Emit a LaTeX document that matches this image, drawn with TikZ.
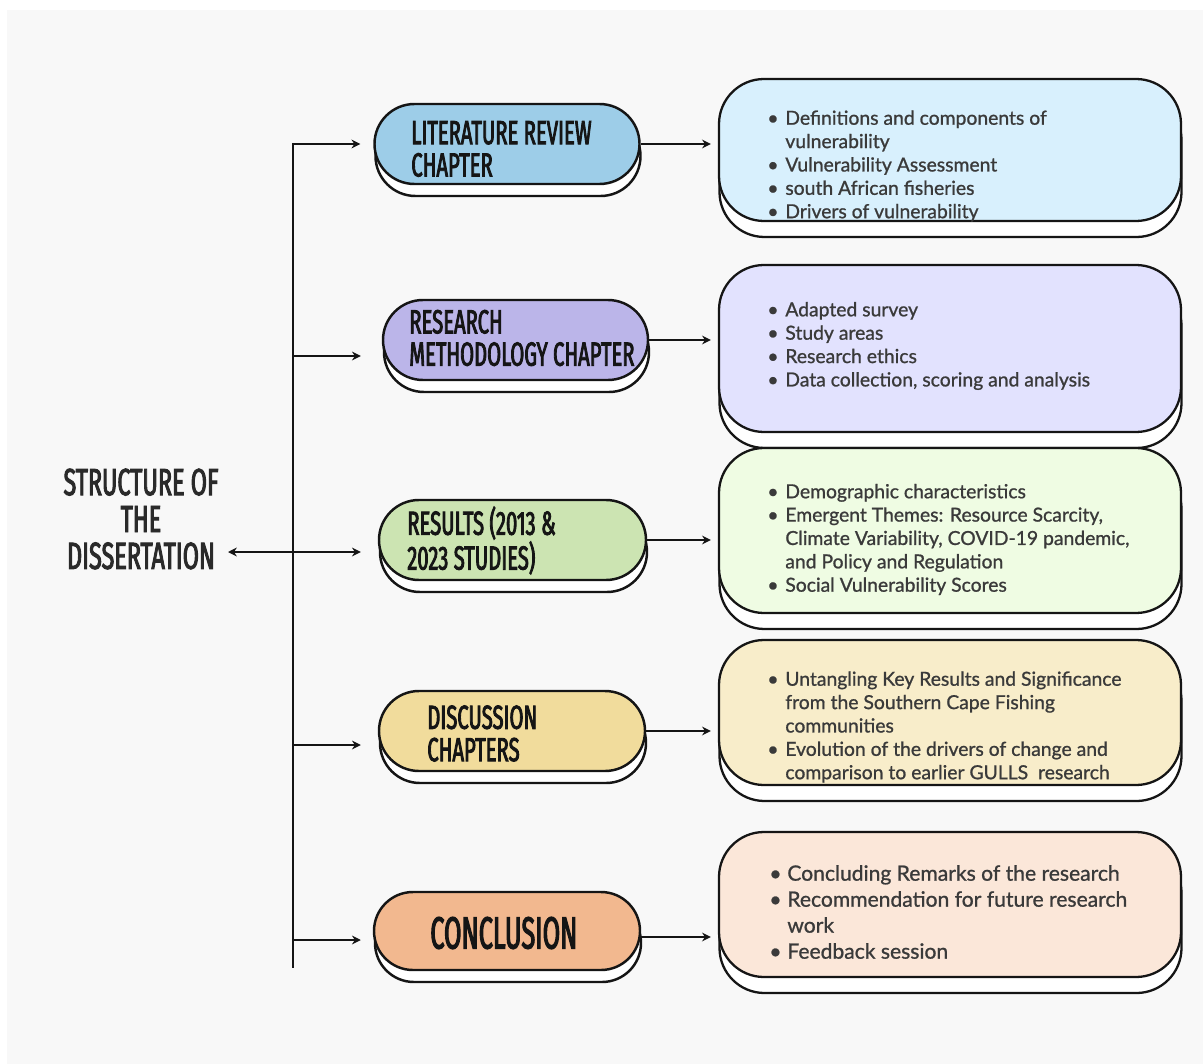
\documentclass[tikz,border=0pt]{standalone}
\usepackage{fontspec}
\setmainfont[FakeBold=1]{Lato}
\newfontfamily\handfont[FakeStretch=0.606,FakeBold=2.5]{Fira Sans}
\newfontfamily\titlefont[FakeStretch=0.62,FakeBold=2.5]{Fira Sans}
\newfontfamily\bigfont[FakeStretch=0.562,FakeBold=2.5]{Fira Sans}
\usetikzlibrary{arrows.meta,shapes.misc,shadows}
\newdimen\pxu \pxu=0.02cm
\definecolor{bggray}{HTML}{F8F8F8}
\definecolor{ink}{HTML}{151515}
\definecolor{titlegray}{HTML}{2A2A2A}
\definecolor{textgray}{HTML}{3A3A3A}
\definecolor{litblue}{HTML}{9DCDE8}
\definecolor{methlilac}{HTML}{BBB5E9}
\definecolor{resgreen}{HTML}{CCE4B2}
\definecolor{discyellow}{HTML}{F1DC9C}
\definecolor{concsalmon}{HTML}{F2B88F}
\definecolor{litcard}{HTML}{D8F0FD}
\definecolor{methcard}{HTML}{E2E2FE}
\definecolor{rescard}{HTML}{EFFCE3}
\definecolor{disccard}{HTML}{F8EDCA}
\definecolor{conccard}{HTML}{FBE7D9}
\newcommand{\itm}{\makebox[18\pxu][l]{\textbullet}}
\newcommand{\cnt}{\hspace*{18\pxu}}
\tikzset{
  pill/.style={rounded rectangle, draw=ink, line width=1.4pt, minimum width=265\pxu,
    minimum height=80\pxu, inner sep=0pt,
    drop shadow={opacity=1, fill=white, draw=ink, line width=1.4pt,
      shadow xshift=1\pxu, shadow yshift=-12\pxu}},
  card/.style={rectangle, rounded corners=45\pxu, draw=ink, line width=1.3pt,
    minimum width=462\pxu, inner sep=0pt,
    drop shadow={opacity=1, fill=white, draw=ink, line width=1.3pt,
      shadow xshift=0.5\pxu, shadow yshift=-16\pxu}},
  head/.style={font=\handfont\fontsize{19}{18.4}\selectfont, text=ink,
    align=left, anchor=west, inner sep=0pt},
  bullets/.style={font=\fontsize{11}{13.3}\selectfont, text=textgray,
    align=left, anchor=west, inner sep=0pt},
  link/.style={draw=ink, line width=1.2pt, -{Stealth[length=5pt,width=5pt]}},
}
\begin{document}
\begin{tikzpicture}[x=0.02cm, y=-0.02cm]
\useasboundingbox (0,0) rectangle (1203,1064);
\fill[white] (0,0) rectangle (1203,1064);
\fill[bggray] (7,10) rectangle (1203,1064);
% title
\node[font=\titlefont\fontsize{21.5}{21}\selectfont, text=titlegray, align=center,
  inner sep=0pt] (title) at (141,519) {STRUCTURE OF\\THE\\DISSERTATION};
% chapters
\node[pill, fill=litblue] (lit) at (507,144) {};
\node[pill, fill=methlilac] (meth) at (515.5,340) {};
\node[pill, fill=resgreen, minimum width=267\pxu] (res) at (512.5,540) {};
\node[pill, fill=discyellow, minimum width=266\pxu] (disc) at (512,731) {};
\node[pill, fill=concsalmon, minimum width=266\pxu, minimum height=78\pxu] (conc) at (507,931) {};
\node[head] at (411,149) {LITERATURE REVIEW\\CHAPTER};
\node[head] at (409,338) {RESEARCH\\METHODOLOGY CHAPTER};
\node[head] at (407,540.5) {RESULTS (2013 \&\\2023 STUDIES)};
\node[head] at (427,733.5) {DISCUSSION\\CHAPTERS};
\node[head, font=\bigfont\fontsize{25.6}{22}\selectfont] at (430,933) {CONCLUSION};
% contents
\node[card, fill=litcard, minimum height=142\pxu] (c1) at (950,150) {};
\node[card, fill=methcard, minimum height=167\pxu] (c2) at (950,348.5) {};
\node[card, fill=rescard, minimum height=165\pxu] (c3) at (950,530.5) {};
\node[card, fill=disccard, minimum height=145\pxu] (c4) at (950,712.5) {};
\node[card, fill=conccard, minimum height=145\pxu] (c5) at (950,904.5) {};
\node[bullets] at (767,166) {\itm Definitions and components of\\\cnt vulnerability\\
  \itm Vulnerability Assessment\\\itm south African fisheries\\\itm Drivers of vulnerability};
\node[bullets] at (767,346) {\itm Adapted survey\\\itm Study areas\\\itm Research ethics\\
  \itm Data collection, scoring and analysis};
\node[bullets] at (767,539.5) {\itm Demographic characteristics\\
  \itm Emergent Themes: Resource Scarcity,\\\cnt Climate Variability, COVID-19 pandemic,\\
  \cnt and Policy and Regulation\\\itm Social Vulnerability Scores};
\node[bullets] at (767,727) {\itm Untangling Key Results and Significance\\
  \cnt from the Southern Cape Fishing\\\cnt communities\\
  \itm Evolution of the drivers of change and\\\cnt comparison to earlier GULLS\ \ research};
\node[bullets, font=\fontsize{12}{14.8}\selectfont] at (769,912) {\itm Concluding Remarks of the research\\
  \itm Recommendation for future research\\\cnt work\\\itm Feedback session};
% trunk and branches
\coordinate (top) at (293,143);
\coordinate (bot) at (293,968);
\coordinate (b1) at (293,144);
\coordinate (b2) at (293,356);
\coordinate (b3) at (293,552);
\coordinate (b4) at (293,745);
\coordinate (b5) at (293,940);
\coordinate (tip) at (228,552);
\draw[draw=ink, line width=1.2pt] (top) -- (bot);
\draw[link, shorten >=13\pxu] (b1) -- (b1 -| lit.west);
\draw[link, shorten >=21\pxu] (b2) -- (b2 -| meth.west);
\draw[link, shorten >=17\pxu] (b3) -- (b3 -| res.west);
\draw[link, shorten >=17\pxu] (b4) -- (b4 -| disc.west);
\draw[link, shorten >=12\pxu] (b5) -- (b5 -| conc.west);
\draw[link] (b3) -- (tip);
\draw[link, shorten >=7\pxu] (lit.east) -- (lit.east -| c1.west);
\draw[link, shorten >=7\pxu] (meth.east) -- (meth.east -| c2.west);
\draw[link, shorten >=7\pxu] (res.east) -- (res.east -| c3.west);
\draw[link, shorten >=7\pxu] (disc.east) -- (disc.east -| c4.west);
\draw[link, shorten >=7\pxu] ([yshift=-6\pxu]conc.east) -- ([yshift=-6\pxu]conc.east -| c5.west);
\end{tikzpicture}
\end{document}
